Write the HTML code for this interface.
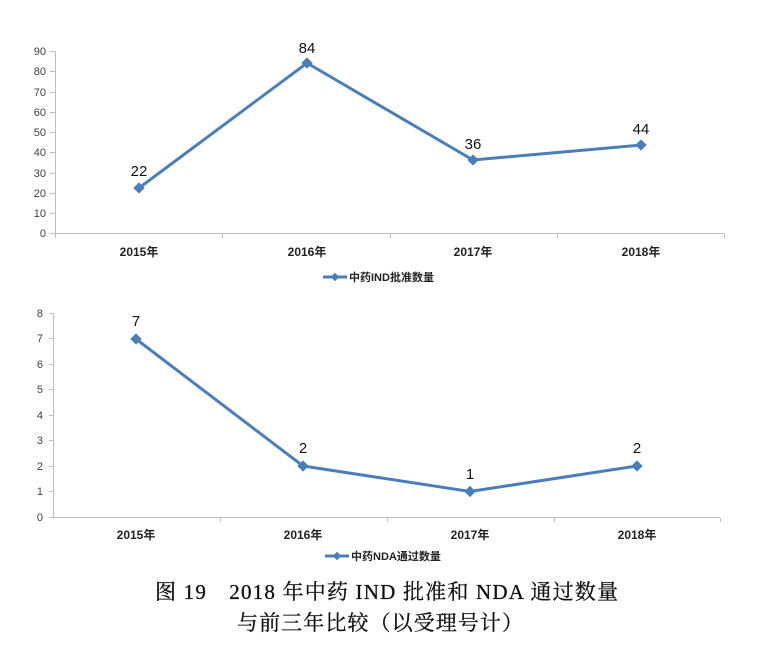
<!DOCTYPE html>
<html><head><meta charset="utf-8"><style>
body{margin:0;background:#fff;}
svg{display:block;}
.t{font-family:"Liberation Sans",sans-serif;font-size:11px;fill:#404040;}
.c{font-family:"Liberation Sans","Noto Sans CJK SC",sans-serif;font-size:12px;font-weight:bold;fill:#222;}
.d{font-family:"Liberation Sans",sans-serif;font-size:15px;fill:#111;}
.cap{font-family:"Liberation Serif","Noto Serif CJK SC",serif;font-size:21px;fill:#111;stroke:#111;stroke-width:0.3;}
</style></head><body>
<svg width="761" height="655" xmlns="http://www.w3.org/2000/svg">
<g stroke="#bfbfbf" stroke-width="1" fill="none">
<line x1="55.5" y1="51" x2="55.5" y2="234"/>
<line x1="55" y1="233.5" x2="724" y2="233.5"/>
<line x1="50" y1="51.5" x2="55" y2="51.5"/><line x1="50" y1="71.5" x2="55" y2="71.5"/><line x1="50" y1="92.5" x2="55" y2="92.5"/><line x1="50" y1="112.5" x2="55" y2="112.5"/><line x1="50" y1="132.5" x2="55" y2="132.5"/><line x1="50" y1="152.5" x2="55" y2="152.5"/><line x1="50" y1="173.5" x2="55" y2="173.5"/><line x1="50" y1="193.5" x2="55" y2="193.5"/><line x1="50" y1="213.5" x2="55" y2="213.5"/><line x1="50" y1="233.5" x2="55" y2="233.5"/>
<line x1="55.5" y1="234" x2="55.5" y2="238"/><line x1="222.5" y1="234" x2="222.5" y2="238"/><line x1="390.5" y1="234" x2="390.5" y2="238"/><line x1="557.5" y1="234" x2="557.5" y2="238"/><line x1="724.5" y1="234" x2="724.5" y2="238"/>
</g>
<g class="t" text-anchor="end">
<text x="46" y="55">90</text><text x="46" y="75">80</text><text x="46" y="96">70</text><text x="46" y="116">60</text><text x="46" y="136">50</text><text x="46" y="156">40</text><text x="46" y="177">30</text><text x="46" y="197">20</text><text x="46" y="217">10</text><text x="46" y="237">0</text>
</g>
<polyline points="139,188 307,63 473,160 641,145" fill="none" stroke="#4a7ebb" stroke-width="3"/>
<g fill="#4a7ebb">
<rect x="135" y="184" width="8" height="8" transform="rotate(45 139 188)"/>
<rect x="303" y="59" width="8" height="8" transform="rotate(45 307 63)"/>
<rect x="469" y="156" width="8" height="8" transform="rotate(45 473 160)"/>
<rect x="637" y="141" width="8" height="8" transform="rotate(45 641 145)"/>
</g>
<g class="d" text-anchor="middle">
<text x="139" y="176">22</text><text x="307" y="53">84</text><text x="473" y="149">36</text><text x="641" y="134">44</text>
</g>
<g class="c" text-anchor="middle">
<text x="139" y="256">2015年</text><text x="307" y="256">2016年</text><text x="473" y="256">2017年</text><text x="641" y="256">2018年</text>
</g>
<line x1="323" y1="277" x2="347" y2="277" stroke="#4a7ebb" stroke-width="3"/>
<rect x="332" y="274" width="6" height="6" fill="#4a7ebb" transform="rotate(45 335 277)"/>
<text class="c" x="349" y="281" style="font-size:11px">中药IND批准数量</text>

<g stroke="#bfbfbf" stroke-width="1" fill="none">
<line x1="53.5" y1="313" x2="53.5" y2="518"/>
<line x1="53" y1="517.5" x2="720" y2="517.5"/>
<line x1="49" y1="313.5" x2="53" y2="313.5"/><line x1="49" y1="338.5" x2="53" y2="338.5"/><line x1="49" y1="364.5" x2="53" y2="364.5"/><line x1="49" y1="389.5" x2="53" y2="389.5"/><line x1="49" y1="415.5" x2="53" y2="415.5"/><line x1="49" y1="440.5" x2="53" y2="440.5"/><line x1="49" y1="466.5" x2="53" y2="466.5"/><line x1="49" y1="491.5" x2="53" y2="491.5"/><line x1="49" y1="517.5" x2="53" y2="517.5"/>
<line x1="220.5" y1="518" x2="220.5" y2="522"/><line x1="387.5" y1="518" x2="387.5" y2="522"/><line x1="554.5" y1="518" x2="554.5" y2="522"/><line x1="720.5" y1="518" x2="720.5" y2="522"/>
</g>
<g class="t" text-anchor="end">
<text x="43" y="317">8</text><text x="43" y="342">7</text><text x="43" y="368">6</text><text x="43" y="393">5</text><text x="43" y="419">4</text><text x="43" y="444">3</text><text x="43" y="470">2</text><text x="43" y="495">1</text><text x="43" y="521">0</text>
</g>
<polyline points="136,339 303,466 470,491.5 637,466" fill="none" stroke="#4a7ebb" stroke-width="3"/>
<g fill="#4a7ebb">
<rect x="132" y="335" width="8" height="8" transform="rotate(45 136 339)"/>
<rect x="299" y="462" width="8" height="8" transform="rotate(45 303 466)"/>
<rect x="466" y="487.5" width="8" height="8" transform="rotate(45 470 491.5)"/>
<rect x="633" y="462" width="8" height="8" transform="rotate(45 637 466)"/>
</g>
<g class="d" text-anchor="middle">
<text x="136" y="326">7</text><text x="303" y="453">2</text><text x="470" y="479">1</text><text x="637" y="453">2</text>
</g>
<g class="c" text-anchor="middle">
<text x="136" y="539">2015年</text><text x="303" y="539">2016年</text><text x="470" y="539">2017年</text><text x="637" y="539">2018年</text>
</g>
<line x1="325" y1="556" x2="349" y2="556" stroke="#4a7ebb" stroke-width="3"/>
<rect x="334" y="553" width="6" height="6" fill="#4a7ebb" transform="rotate(45 337 556)"/>
<text class="c" x="351" y="560" style="font-size:11px">中药NDA通过数量</text>

<text class="cap" x="155" y="599" textLength="463" lengthAdjust="spacing">图 19　2018 年中药 IND 批准和 NDA 通过数量</text>
<text class="cap" x="237" y="630" textLength="286" lengthAdjust="spacing">与前三年比较（以受理号计）</text>
</svg>
</body></html>
